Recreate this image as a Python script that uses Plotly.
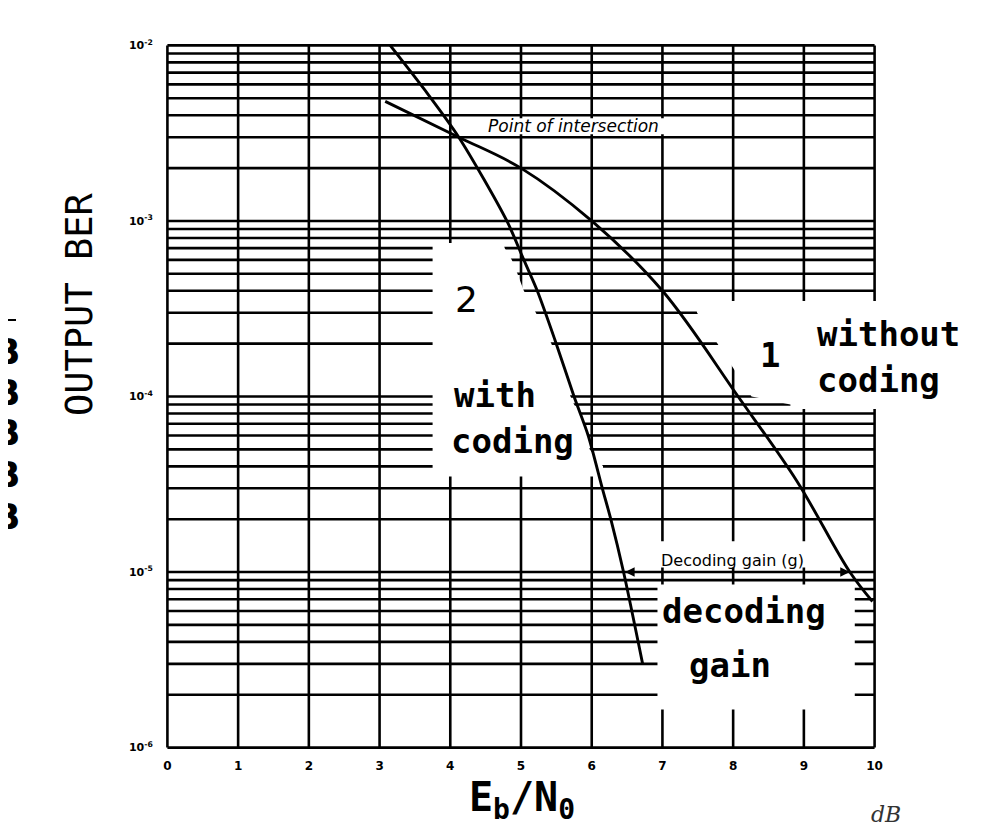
import numpy as np
import plotly.graph_objects as go

# ---------------- data ----------------
x_ticks = list(range(0, 11))
x_tick_labels = [str(v) for v in x_ticks]
decade_exps = [-6, -5, -4, -3, -2]
decade_labels = ["10<sup>-6</sup>", "10<sup>-5</sup>", "10<sup>-4</sup>", "10<sup>-3</sup>", "10<sup>-2</sup>"]
minor_digits = [1, 2, 3, 4, 5, 6, 7, 8, 9]

# curve 1 : without coding
without_x = [3.08, 4.12, 5.0, 6.0, 7.0, 8.07, 8.9, 9.65, 9.97]
without_ber = [4.8e-3, 3.0e-3, 2.0e-3, 1.0e-3, 4.0e-4, 1.0e-4, 3.3e-5, 1.0e-5, 6.8e-6]

# curve 2 : with coding
with_x = [3.15, 3.65, 4.12, 4.80, 5.04, 5.23, 5.48, 5.75, 5.95, 6.15, 6.27, 6.45, 6.72]
with_ber = [1.0e-2, 5.5e-3, 3.0e-3, 1.0e-3, 6.0e-4, 4.0e-4, 2.1e-4, 1.0e-4, 6.0e-5, 3.0e-5, 2.0e-5, 1.0e-5, 3.0e-6]

# decoding gain measured at BER = 1e-5
gain_ber = 1.0e-5
gain_from_x = 6.45
gain_to_x = 9.65

# blank (erased) regions of the printed grid, behind the labels
regA_left = 3.75
regA_ber = [7.5e-4, 7e-4, 6e-4, 5e-4, 4e-4, 3e-4, 2e-4, 1e-4, 9e-5, 8e-5, 7e-5, 6e-5, 5e-5, 4e-5, 3.5e-5]
regA_x = [4.75, 4.77, 4.87, 4.95, 5.04, 5.21, 5.43, 5.70, 5.75, 5.83, 5.88, 5.94, 5.97, 6.16, 6.16]
regB_right = 10.5
regB_ber = [3.5e-4, 3e-4, 2e-4, 1e-4, 9e-5, 8.5e-5]
regB_x = [7.45, 7.49, 7.78, 8.26, 8.81, 8.81]
regC_x = [6.93, 9.72]
regC_ber = [1.65e-6, 8.5e-6]
regD_x = [4.42, 7.05]          # behind "Point of intersection"
regD_ber = [3.12e-3, 3.85e-3]
regE_x = [6.9, 9.2]            # behind "Decoding gain (g)"
regE_ber = [1.06e-5, 1.5e-5]

# ---------------- layout geometry ----------------
OFF = 8                      # page body margin of the html page
W, H = 981, 832
L, T = 166 - OFF, 44 - OFF
PW, PH = 710, 705
R, B = W - L - PW, H - T - PH


def px(xp):
    return (xp - OFF - L) / PW


def py(yp):
    return (T + PH - (yp - OFF)) / PH


x_lo, x_hi = x_ticks[0], x_ticks[-1]
y_lo, y_hi = 10.0 ** decade_exps[0], 10.0 ** decade_exps[-1]
grid_vals = [d * 10.0 ** e for e in decade_exps[:-1] for d in minor_digits] + [y_hi]

fig = go.Figure()

# printed grid
gx, gy = [], []
for v in x_ticks:
    gx += [v, v, None]
    gy += [y_lo, y_hi, None]
for v in grid_vals:
    gx += [x_lo, x_hi, None]
    gy += [v, v, None]
fig.add_trace(go.Scatter(x=gx, y=gy, mode="lines", line=dict(color="black", width=2.6),
                         showlegend=False, hoverinfo="skip"))


def blank(xs, ys):
    fig.add_trace(go.Scatter(x=xs, y=ys, mode="lines", fill="toself", fillcolor="white",
                             line=dict(width=0, color="white"), showlegend=False, hoverinfo="skip"))


blank([regA_left] + regA_x + [regA_left], [regA_ber[0]] + regA_ber + [regA_ber[-1]])
blank([regB_right] + regB_x + [regB_right], [regB_ber[0]] + regB_ber + [regB_ber[-1]])
for rx, rb in ((regC_x, regC_ber), (regD_x, regD_ber), (regE_x, regE_ber)):
    blank([rx[0], rx[1], rx[1], rx[0]], [rb[0], rb[0], rb[1], rb[1]])

# curves
fig.add_trace(go.Scatter(x=without_x, y=without_ber, mode="lines",
                         line=dict(color="black", width=2.9, shape="spline", smoothing=1.0),
                         showlegend=False, hoverinfo="skip"))
fig.add_trace(go.Scatter(x=with_x, y=with_ber, mode="lines",
                         line=dict(color="black", width=2.9, shape="spline", smoothing=0.8),
                         showlegend=False, hoverinfo="skip"))

mono = "DejaVu Sans Mono"
big = dict(family=mono, size=34, color="black", weight="bold")
ann = []


def label(text, xp, yp, xanchor="center", font=big, **kw):
    ann.append(dict(text=text, x=px(xp), y=py(yp), xref="paper", yref="paper",
                    xanchor=xanchor, yanchor="middle", showarrow=False, font=font, **kw))


label("without", 815, 334, "left")
label("coding", 815, 380, "left")
label("1", 770, 355)
label("2", 466, 299, font=dict(family="DejaVu Sans", size=36, color="black"))
label("with", 452, 395, "left")
label("coding", 449, 441, "left")
label("decoding", 660, 611, "left")
label("gain", 687, 665, "left")
label("OUTPUT BER", 79, 305, font=dict(family=mono, size=37, color="black"), textangle=-90)
label("E<sub>b</sub>/N<sub>0</sub>", 522, 800, font=dict(family=mono, size=40, color="black", weight="bold"))
label("dB", 886, 815, font=dict(family="DejaVu Serif", size=22, color="#333", style="italic"))
label("Point of intersection", 573, 126, font=dict(family="DejaVu Sans", size=17, color="black", style="italic"))
label("Decoding gain (g)", 732, 560, font=dict(family="DejaVu Sans", size=16, color="black"))
for yp in [351, 392, 432, 474, 516]:
    label("B", 22, yp, "right", font=dict(family="DejaVu Sans", size=36, color="black", weight="bold"))

ann.append(dict(text="", x=gain_to_x, y=np.log10(gain_ber), ax=gain_from_x, ay=np.log10(gain_ber),
                xref="x", yref="y", axref="x", ayref="y", showarrow=True,
                arrowhead=2, startarrowhead=2, arrowside="end+start", arrowsize=1.2,
                arrowwidth=1.6, arrowcolor="black"))

fig.update_layout(
    width=W, height=H,
    margin=dict(l=L, r=R, t=T, b=B, autoexpand=False),
    paper_bgcolor="white", plot_bgcolor="white",
    annotations=ann,
    shapes=[dict(type="line", xref="paper", yref="paper", x0=px(-2), x1=px(16), y0=py(320), y1=py(320),
                 line=dict(color="black", width=2))],
    xaxis=dict(range=[-0.02, 10.02], tickvals=x_ticks, ticktext=x_tick_labels,
               showgrid=False, zeroline=False, showline=False,
               ticks="outside", ticklen=6, tickcolor="rgba(0,0,0,0)",
               tickfont=dict(family="DejaVu Sans", size=12, color="black", weight="bold")),
    yaxis=dict(type="log", range=[-6.008, -1.992],
               tickvals=[10.0 ** e for e in decade_exps], ticktext=decade_labels,
               showgrid=False, zeroline=False, showline=False,
               ticks="outside", ticklen=10, tickcolor="rgba(0,0,0,0)",
               tickfont=dict(family="DejaVu Sans", size=11, color="black", weight="bold")),
)

fig.write_html("out.html")
